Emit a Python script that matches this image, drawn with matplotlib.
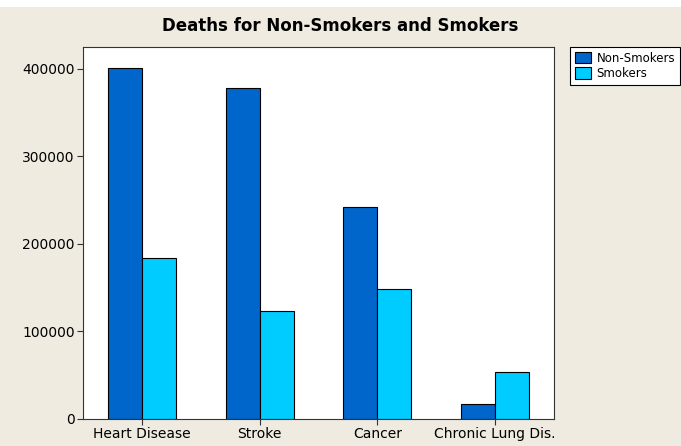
import matplotlib
matplotlib.use('Agg')
import matplotlib.pyplot as plt
import numpy as np
from matplotlib.patches import Rectangle

categories = ["Heart Disease", "Stroke", "Cancer", "Chronic Lung Dis."]
non_smokers = [401000, 378500, 242000, 17000]
smokers = [184500, 123500, 149000, 54000]
series_names = ["Non-Smokers", "Smokers"]
yticks = [0, 100000, 200000, 300000, 400000]

bg = '#EFEBE1'
c_non = '#0066CC'
c_smk = '#00CCFF'

fig = plt.figure(figsize=(6.81, 4.46), dpi=100, facecolor=bg)
# white strip at the very top (cropped page)
fig.patches.append(Rectangle((0, 1 - 7 / 446), 1, 7 / 446, transform=fig.transFigure,
                             facecolor='white', edgecolor='none', zorder=0))

ax = fig.add_axes([83 / 681, 1 - 419 / 446, (554 - 83) / 681, (419 - 47) / 446])
ax.set_facecolor('white')

x = np.arange(len(categories))
w = 0.288
b1 = ax.bar(x - w / 2, non_smokers, w, color=c_non, edgecolor='black', linewidth=0.8,
            label=series_names[0])
b2 = ax.bar(x + w / 2, smokers, w, color=c_smk, edgecolor='black', linewidth=0.8,
            label=series_names[1])

ax.set_xlim(-0.5, 3.5)
ax.set_ylim(0, 425000)
ax.set_xticks(x)
ax.set_xticklabels(categories, fontsize=10)
ax.set_yticks(yticks)
ax.set_yticklabels([str(v) for v in yticks], fontsize=10)
ax.tick_params(direction='out', length=4, width=0.8, color='#333333', pad=2)
for s in ax.spines.values():
    s.set_color('#333333')
    s.set_linewidth(0.8)

fig.text(0.5, 1 - 31 / 446, "Deaths for Non-Smokers and Smokers", ha='center', va='baseline',
         fontsize=12, fontweight='bold')

leg = fig.legend(handles=[b1, b2], labels=series_names, loc='upper left',
                 bbox_to_anchor=(570 / 681, 1 - 47 / 446), fontsize=8.5,
                 fancybox=False, framealpha=1, edgecolor='black', handlelength=1.4,
                 handleheight=1.1, handletextpad=0.45, borderpad=0.4, labelspacing=0.18,
                 borderaxespad=0)
leg.get_frame().set_linewidth(0.8)

fig.savefig('out.png', dpi=100, facecolor=bg)
